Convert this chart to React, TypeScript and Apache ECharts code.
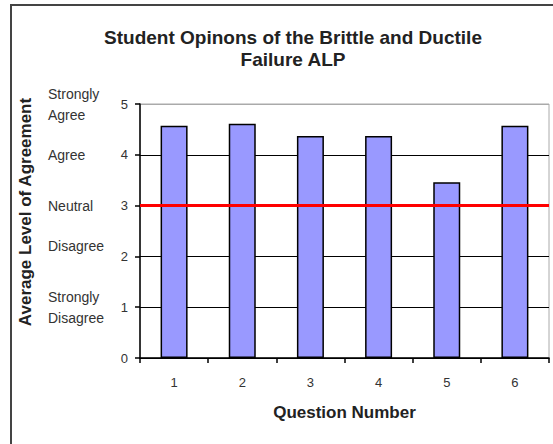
import React, { useEffect, useRef } from "react";
import * as echarts from "echarts";

const categories = ["1", "2", "3", "4", "5", "6"];
const values = [4.57, 4.61, 4.37, 4.37, 3.46, 4.57];
const agreementLabels: Record<number, string> = {
  5: "Strongly\nAgree",
  4: "Agree",
  3: "Neutral",
  2: "Disagree",
  1: "Strongly\nDisagree",
  0: "",
};
const neutralValue = 3;
const titleText = "Student Opinons of the Brittle and Ductile\nFailure ALP";
const xName = "Question Number";
const yName = "Average Level of Agreement";

const FONT = "'Liberation Sans', Arial, sans-serif";

export default function App() {
  const ref = useRef<HTMLDivElement>(null);
  useEffect(() => {
    if (!ref.current) return;
    const chart = echarts.init(ref.current, null, { renderer: "svg" });
    chart.setOption({
      animation: false,
      backgroundColor: "#ffffff",
      title: {
        text: titleText,
        left: 288,
        top: 21,
        textAlign: "center",
        textStyle: {
          fontFamily: FONT,
          fontSize: 19,
          fontWeight: "bold",
          color: "#222",
          lineHeight: 22,
        },
      },
      grid: {
        left: 140,
        right: 4,
        top: 104,
        bottom: 86,
        show: true,
        borderColor: "#aaaaaa",
        borderWidth: 1,
        backgroundColor: "transparent",
      },
      xAxis: {
        type: "category",
        data: categories,
        name: xName,
        nameLocation: "middle",
        nameGap: 46,
        nameTextStyle: {
          fontFamily: FONT,
          fontSize: 17,
          fontWeight: "bold",
          color: "#222",
        },
        axisLine: { lineStyle: { color: "#000", width: 1.5 } },
        axisTick: { show: true, length: 5, lineStyle: { color: "#000", width: 1.5 } },
        axisLabel: { margin: 18, fontFamily: FONT, fontSize: 13, color: "#333" },
      },
      yAxis: [
        {
          type: "value",
          min: 0,
          max: 5,
          interval: 1,
          axisLine: { show: true, lineStyle: { color: "#000", width: 1.5 } },
          axisTick: { show: true, length: 5, lineStyle: { color: "#000", width: 1.5 } },
          axisLabel: { margin: 12, fontFamily: FONT, fontSize: 13, color: "#333" },
          splitLine: {
            show: true,
            lineStyle: {
              color: ["#000", "#000", "#000", "#000", "#000", "#aaaaaa"],
              width: 1.2,
            },
          },
        },
        {
          type: "value",
          position: "left",
          min: 0,
          max: 5,
          interval: 1,
          axisLine: { show: false },
          axisTick: { show: false },
          splitLine: { show: false },
          axisLabel: {
            margin: 92,
            align: "left",
            fontFamily: FONT,
            fontSize: 14,
            color: "#333",
            lineHeight: 21,
            formatter: (v: number) =>
              v === 2 ? "{up|" + agreementLabels[v] + "}" : agreementLabels[v] ?? "",
            rich: {
              up: {
                fontFamily: FONT,
                fontSize: 14,
                color: "#333",
                padding: [0, 0, 20, 0],
              },
            },
          },
        },
      ],
      graphic: [
        {
          type: "text",
          x: 25,
          y: 212,
          rotation: Math.PI / 2,
          style: {
            text: yName,
            fontFamily: FONT,
            fontSize: 17,
            fontWeight: "bold",
            fill: "#222",
            align: "center",
            verticalAlign: "middle",
          },
        },
        {
          type: "line",
          shape: { x1: 11, y1: 5, x2: 11, y2: 444 },
          style: { stroke: "#444", lineWidth: 2 },
        },
        {
          type: "line",
          shape: { x1: 10, y1: 5, x2: 553, y2: 5 },
          style: { stroke: "#444", lineWidth: 2 },
        },
      ],
      series: [
        {
          type: "bar",
          data: values,
          barWidth: 27,
          itemStyle: { color: "#9999ff", borderColor: "#000", borderWidth: 1.5 },
          markLine: {
            silent: true,
            symbol: "none",
            label: { show: false },
            lineStyle: { color: "#ff0000", width: 3, type: "solid" },
            data: [{ yAxis: neutralValue }],
          },
        },
      ],
    });
    return () => chart.dispose();
  }, []);
  return (
    <div
      ref={ref}
      style={{ position: "fixed", left: 0, top: 0, width: 553, height: 444 }}
    />
  );
}
